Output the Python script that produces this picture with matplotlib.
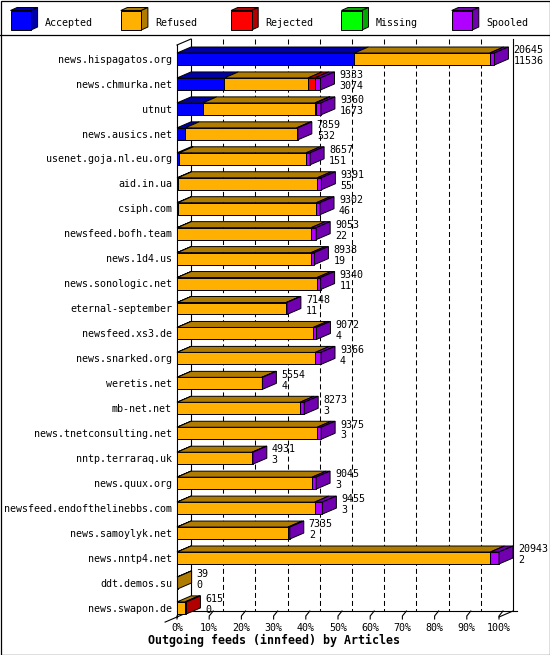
import numpy as np
import matplotlib.pyplot as plt
from matplotlib.patches import Polygon, Rectangle

hosts = ["news.hispagatos.org", "news.chmurka.net", "utnut", "news.ausics.net",
         "usenet.goja.nl.eu.org", "aid.in.ua", "csiph.com", "newsfeed.bofh.team",
         "news.1d4.us", "news.sonologic.net", "eternal-september", "newsfeed.xs3.de",
         "news.snarked.org", "weretis.net", "mb-net.net", "news.tnetconsulting.net",
         "nntp.terraraq.uk", "news.quux.org", "newsfeed.endofthelinebbs.com",
         "news.samoylyk.net", "news.nntp4.net", "ddt.demos.su", "news.swapon.de"]
offered = [20645, 9333, 9360, 7859, 8657, 9391, 9302, 9053, 8938, 9340, 7148, 9072,
           9366, 5554, 8273, 9375, 4931, 9045, 9455, 7335, 20943, 39, 615]
accepted = [11536, 3074, 1673, 532, 151, 55, 46, 22, 19, 11, 11, 4,
            4, 4, 3, 3, 3, 3, 3, 2, 2, 0, 0]
refused = [8809, 5450, 7300, 7250, 8250, 9076, 9016, 8706, 8704, 9089, 7087, 8853,
           8992, 5510, 7990, 9112, 4888, 8782, 8952, 7223, 20381, 39, 520]
rejected = [0, 440, 80, 0, 0, 0, 0, 0, 0, 0, 0, 0,
            0, 0, 0, 0, 0, 0, 0, 0, 0, 0, 95]
missing = [0] * 23
spooled = [300, 369, 307, 77, 256, 260, 240, 325, 215, 240, 50, 215,
           370, 40, 280, 260, 40, 260, 500, 110, 560, 0, 0]

series = ["Accepted", "Refused", "Rejected", "Missing", "Spooled"]
front_colors = ["#0000ff", "#ffb000", "#ff0000", "#00ff00", "#b000ff"]
dark_colors = ["#0000a8", "#b07c00", "#b00000", "#00a800", "#7000b0"]
ticks = list(range(0, 101, 10))
title = "Outgoing feeds (innfeed) by Articles"

# layout in pixels
W, H = 550, 655
X0, X1 = 177, 499          # 0% and 100% on the front plane
ROW0, ROWSTEP = 59, 24.95  # first row centre, row spacing
PXX = (X1 - X0) / 100.0

MONO = "DejaVu Sans Mono"
FS = 7.2


def dx(p):
    return p / PXX


def dy(p):
    return p / ROWSTEP


DX, DY = dx(14), dy(6)
HALF = dy(6)
TOPY = dy(45 - ROW0)      # front top of plot
FLOOR = dy(617 - ROW0)    # front floor
EDGE = dict(edgecolor="black", linewidth=0.7, joinstyle="miter")

fig = plt.figure(figsize=(W / 100, H / 100), dpi=100)
frame = fig.add_axes([0, 0, 1, 1])
frame.set_xlim(0, W)
frame.set_ylim(H, 0)
frame.axis("off")

ax = fig.add_axes([0, 0, 1, 1])
ax.set_xlim(-X0 / PXX, (W - X0) / PXX)
ax.set_ylim((H - ROW0) / ROWSTEP, -ROW0 / ROWSTEP)
ax.axis("off")

# outer border and legend separator
frame.add_patch(Rectangle((0.5, 0.5), W - 1, H - 1, fill=False, lw=0.9, ec="black"))
frame.plot([0, W], [35, 35], color="black", lw=0.9)

# legend
for i, name in enumerate(series):
    lx, ly, sw, sh, ddx, ddy = 10.5 + i * 110.3, 10.5, 20.5, 19.5, 6.6, 3
    frame.add_patch(Polygon([(lx, ly), (lx + sw, ly), (lx + sw + ddx, ly - ddy), (lx + ddx, ly - ddy)],
                            facecolor=dark_colors[i], **EDGE))
    frame.add_patch(Polygon([(lx + sw, ly), (lx + sw, ly + sh), (lx + sw + ddx, ly + sh - ddy),
                             (lx + sw + ddx, ly - ddy)], facecolor=dark_colors[i], **EDGE))
    frame.add_patch(Rectangle((lx, ly), sw, sh, facecolor=front_colors[i], **EDGE))
    frame.text(lx + 34.2, 25.5, name, family=MONO, fontsize=FS, va="baseline", ha="left")

frame.text(148, 644, title, family=MONO, fontsize=8.4, fontweight="bold", va="baseline", ha="left")

# back plane grid and walls
dash = dict(color="black", lw=0.75, linestyle=(0, (4.8, 2.9)))
for p in ticks[1:-1]:
    ax.plot([p + DX, p + DX], [TOPY - DY, FLOOR - DY], zorder=1, **dash)
solid = dict(color="black", lw=0.8, zorder=1)
ax.plot([DX, DX], [TOPY - DY, FLOOR - DY], **solid)
ax.plot([100 + DX, 100 + DX], [TOPY - DY, FLOOR - DY], **solid)
ax.plot([0, 0], [TOPY, FLOOR], **solid)
ax.plot([0, DX], [TOPY, TOPY - DY], **solid)
ax.plot([DX * 0, 100 + DX + dx(4)], [FLOOR - DY, FLOOR - DY], **solid)
ax.plot([-0.85 * DX, DX], [FLOOR + 0.85 * DY, FLOOR - DY], **solid)
ax.plot([100, 100 + DX], [FLOOR, FLOOR - DY], **solid)
for p in ticks:
    ax.plot([p, p, p + dx(4)], [FLOOR + dy(2), FLOOR - dy(1), FLOOR - DY], **solid)
    ax.text(p, FLOOR + dy(13.7), f"{p}%", family=MONO, fontsize=FS, ha="center", va="baseline")

# bars
vmax = max(offered)
for r, host in enumerate(hosts):
    ax.text(dx(-5), r + dy(3.7), host, family=MONO, fontsize=FS, ha="right", va="baseline")
    yt, yb = r - HALF, r + HALF
    left = 0.0
    last = None
    parts = [accepted[r], refused[r], rejected[r], missing[r], spooled[r]]
    for k, v in enumerate(parts):
        if v <= 0:
            continue
        w = v / vmax * 100
        ax.add_patch(Rectangle((left, yt), w, yb - yt, facecolor=front_colors[k], zorder=3, **EDGE))
        ax.add_patch(Polygon([(left, yt), (left + w, yt), (left + w + DX, yt - DY), (left + DX, yt - DY)],
                             facecolor=dark_colors[k], zorder=3, **EDGE))
        left += w
        last = k
    if last is not None:
        ax.add_patch(Polygon([(left, yt), (left, yb), (left + DX, yb - DY), (left + DX, yt - DY)],
                             facecolor=dark_colors[last], zorder=4, **EDGE))
    tx = left + DX + dx(5)
    ax.text(tx, r + dy(-5.75), str(offered[r]), family=MONO, fontsize=FS, va="baseline", zorder=5)
    ax.text(tx, r + dy(5.25), str(accepted[r]), family=MONO, fontsize=FS, va="baseline", zorder=5)

plt.savefig("out.png", dpi=100)
